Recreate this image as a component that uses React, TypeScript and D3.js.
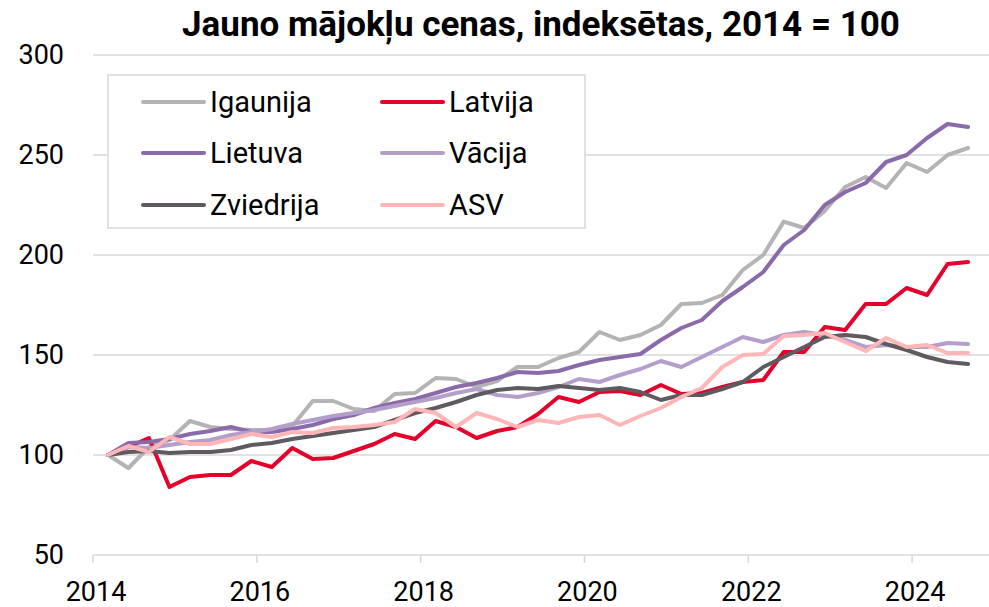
import React from "react";
import * as d3 from "d3";

const quarters: string[] = Array.from({ length: 43 }, (_, i) => `${2014 + Math.floor(i / 4)}Q${(i % 4) + 1}`);

const igaunija = [100, 93.5, 104, 107.5, 117, 114, 113, 112.5, 112.5, 114.5, 127, 127, 123, 122, 130.5, 131, 138.5, 138, 134, 137, 144, 144, 148.5, 151.5, 161.5, 157.5, 160, 165, 175.5, 176, 180, 192.5, 200, 216.7, 213.5, 222, 234, 239, 233.5, 246, 241.5, 250, 253.5];
const latvija = [100, 104, 108.5, 84, 89, 90, 90, 97, 94, 103.5, 98, 98.5, 102, 105.5, 110.5, 108, 117, 114, 108.5, 112, 114, 120.5, 129, 126.5, 131.5, 132, 130, 135, 130.5, 131, 134, 136.5, 137.5, 151.5, 151.5, 164, 162.5, 175.5, 175.5, 183.5, 180, 195.5, 196.5];
const lietuva = [100, 106, 106.5, 108, 110.5, 112, 114, 111.5, 111.5, 113, 115, 118, 120, 123.5, 126, 128, 131, 134, 136, 138.5, 141.5, 141, 142, 145, 147.5, 149, 150.5, 157.5, 163.5, 167.5, 177, 184, 191.5, 205, 212.5, 225, 231.5, 236, 246.5, 250, 258.5, 265.5, 264];
const vacija = [100, 104, 103.5, 105, 106.5, 107.5, 110, 111.5, 113, 115.5, 117.5, 119.5, 121, 122.5, 124.5, 126.5, 128.5, 131, 133, 130, 129, 131, 134, 138, 136.5, 140, 143, 147, 144, 149, 154, 159, 156.5, 160, 161.5, 160, 157.5, 154, 155, 154, 154, 156, 155.5];
const zviedrija = [100, 101.5, 102, 101, 101.5, 101.5, 102.5, 105, 106, 108, 109.5, 111, 112.5, 114, 117.5, 121, 123.5, 126.5, 130, 132.5, 133.5, 133, 134.5, 133.5, 132.5, 133.5, 131.5, 127.5, 130, 130, 133, 136.5, 144, 149, 154, 159, 160, 159, 155.5, 152.5, 149, 146.5, 145.5];
const asv = [100, 104.5, 101.5, 109, 105.5, 105.5, 108, 110.5, 109, 111.5, 111, 113.5, 114, 115, 116.5, 123, 121, 114, 121, 118, 114, 117.5, 116, 119, 120, 115, 119.5, 123.5, 129, 133.5, 144, 150, 150.5, 159.5, 160, 161, 156.5, 152, 158.5, 154, 155, 151, 151];

const seriesNames = ["Igaunija", "Latvija", "Lietuva", "Vācija", "Zviedrija", "ASV"];
const seriesValues = [igaunija, latvija, lietuva, vacija, zviedrija, asv];
const seriesColors = ["#b5b3b5", "#e4002b", "#8a6aa8", "#b39fca", "#5f5a60", "#ffb6b6"];

const yTicks = [50, 100, 150, 200, 250, 300];
const xTicks = [2014, 2016, 2018, 2020, 2022, 2024];
const title = "Jauno mājokļu cenas, indeksētas, 2014 = 100";

const qTime = (q: string) => {
  const y = +q.slice(0, 4);
  const n = +q.slice(5);
  return y + 0.183 + (n - 1) * 0.25;
};

export default function App() {
  const W = 989, H = 607;
  const x = d3.scaleLinear().domain([2014, 2025]).range([93, 994]);
  const y = d3.scaleLinear().domain([50, 300]).range([555, 55]);
  const line = d3
    .line<number>()
    .x((_, i) => x(qTime(quarters[i])))
    .y((d) => y(d))
    .curve(d3.curveLinear);
  const font = "Roboto, 'Open Sans', sans-serif";
  const legendRows = [102, 153, 205];
  const legendCols = [143, 382];
  return (
    <svg width={W} height={H} style={{ position: "absolute", left: 0, top: 0, background: "#fff" }} fontFamily={font}>
      <rect x={0} y={0} width={W} height={H} fill="#fff" />
      <text x={541} y={36} textAnchor="middle" fontSize={35} fontWeight={700} fill="#000">{title}</text>
      {yTicks.map((t) => (
        <g key={t}>
          {t !== 50 && <line x1={93} x2={989} y1={y(t)} y2={y(t)} stroke="#d9d9d9" strokeWidth={1.5} />}
          <text x={64} y={y(t)} dy="0.35em" textAnchor="end" fontSize={27} fill="#000">{t}</text>
        </g>
      ))}
      <line x1={93} x2={989} y1={y(50)} y2={y(50)} stroke="#d9d9d9" strokeWidth={1.5} />
      {xTicks.map((t) => (
        <g key={t}>
          <line x1={x(t)} x2={x(t)} y1={555} y2={563} stroke="#d9d9d9" strokeWidth={1.5} />
          <text x={x(t) + 3} y={601} textAnchor="middle" fontSize={27} fill="#000">{t}</text>
        </g>
      ))}
      {seriesValues.map((vals, k) => (
        <path key={seriesNames[k]} d={line(vals) || ""} fill="none" stroke={seriesColors[k]} strokeWidth={4} strokeLinejoin="round" strokeLinecap="round" />
      ))}
      <rect x={108} y={75} width={477} height={153} fill="#fff" stroke="#d9d9d9" strokeWidth={1.5} />
      {seriesNames.map((name, k) => {
        const cx = legendCols[k % 2];
        const cy = legendRows[Math.floor(k / 2)];
        return (
          <g key={name}>
            <line x1={cx} x2={cx + 61} y1={cy} y2={cy} stroke={seriesColors[k]} strokeWidth={4} strokeLinecap="round" />
            <text x={cx + 67} y={cy} dy="0.35em" fontSize={29} fill="#000">{name}</text>
          </g>
        );
      })}
    </svg>
  );
}
